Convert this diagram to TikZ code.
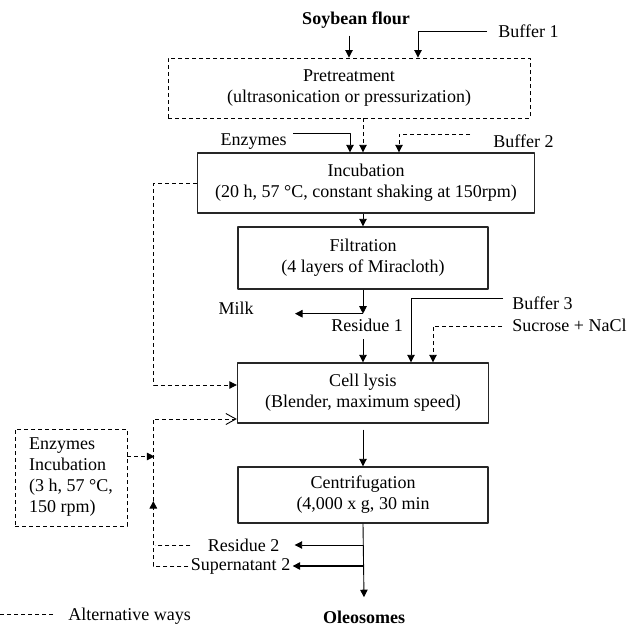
\documentclass[tikz,border=0pt]{standalone}
\usepackage{fontspec}
\setmainfont{Liberation Serif}
\usetikzlibrary{arrows.meta}
\begin{document}
\begin{tikzpicture}[x=1pt, y=-1pt, font=\fontsize{18}{21}\selectfont, line join=round, line width=0.9pt, >={Triangle[length=7.5pt,width=7.5pt]},
	every node/.style={inner sep=2pt},
	proc/.style={draw=black!85, line width=1.4pt, align=center},
	altbox/.style={draw, line width=0.9pt, dash pattern=on 4pt off 3pt, align=center},
	altline/.style={dash pattern=on 4pt off 3pt},
	openarr/.style={-{Straight Barb[length=10pt,width=11pt]}}]
	\useasboundingbox (0,0) rectangle (629,629);
	\node[font=\fontsize{18}{21}\selectfont\bfseries] (soy) at (356,20) {Soybean flour};
	\node[anchor=west] (buf1) at (496,31) {Buffer 1};
	\node[altbox, minimum width=362pt, minimum height=60pt] (pre) at (349,88) {Pretreatment\\(ultrasonication or pressurization)};
	\node[anchor=east] (enz) at (289,142) {Enzymes};
	\node[anchor=west] (buf2) at (491,141) {Buffer 2};
	\node[proc, minimum width=337pt, minimum height=60pt] (inc) at (366,183) {Incubation\\(20 h, 57 °C, constant shaking at 150rpm)};
	\node[proc, minimum width=250pt, minimum height=62pt] (fil) at (363,258) {Filtration\\(4 layers of Miracloth)};
	\node[anchor=east] (milk) at (256,308) {Milk};
	\node (res1) at (367,325) {Residue 1};
	\node[anchor=west] (buf3) at (510,303) {Buffer 3};
	\node[anchor=west] (suc) at (510,325) {Sucrose + NaCl};
	\node[proc, minimum width=251pt, minimum height=60pt] (cell) at (363,393) {Cell lysis\\(Blender, maximum speed)};
	\node[altbox, align=left, minimum width=112pt, minimum height=97pt] (enzb) at (71,477.5) {Enzymes\\Incubation\\(3 h, 57 °C,\\150 rpm)};
	\node[proc, minimum width=250pt, minimum height=56pt] (cen) at (363,495) {Centrifugation\\(4,000 x g, 30 min};
	\node (res2) at (243.5,545) {Residue 2};
	\node (sup) at (240.5,566) {Supernatant 2};
	\node[font=\fontsize{18}{21}\selectfont\bfseries] (ole) at (364,617) {Oleosomes};
	\node[anchor=west] (leg) at (66,616) {Alternative ways};
	\draw[->] (pre.north) ++(0,-22) -- (pre.north);
	\draw[->] (buf1.west) ++(-9,0) -| ([xshift=69]pre.north);
	\draw[->] (enz.north east) ++(4,2) -| ([xshift=-16]inc.north);
	\draw[altline,->] ([xshift=14]pre.south) -- ([xshift=-3]inc.north);
	\draw[altline,->] (buf2.west) ++(-21,-7) -| ([xshift=33]inc.north);
	\draw[altline,->] (inc.west) -- ++(-43,0) |- ([yshift=8]cell.west);
	\draw[->] (inc.south -| fil.north) -- (fil.north);
	\draw[->] (fil.south) -- ++(0,24) coordinate (mj);
	\draw[->] (mj) -- ++(-68,0);
	\draw[->] (cell.north) ++(0,-23) -- (cell.north);
	\draw[->] (buf3.west) ++(-7,-5) -| ([xshift=48]cell.north);
	\draw[altline,->] (suc.west) ++(-8,1) -| ([xshift=70]cell.north);
	\draw[->] (cell.south) ++(0,6) -- (cen.north);
	\draw[->] (cen.south) -- ([yshift=11]ole.north);
	\draw[->] (cen.south |- res2.east) -- ([xshift=13]res2.east);
	\draw[->, line width=1.3pt] (cen.south |- sup.east) -- (sup.east);
	\draw[altline] (res2.west) ++(-15,0) -- ++(-35,0);
	\draw[altline,->] (sup.west) -| ++(-35,-65) coordinate (up);
	\draw[altline,openarr] (up) |- ([yshift=-26]cell.west);
	\draw[altline,->] ([yshift=21]enzb.east) -- ++(27,0);
	\draw[altline] (leg.west) ++(-13,-2) -- ++(-53,0);
\end{tikzpicture}
\end{document}
